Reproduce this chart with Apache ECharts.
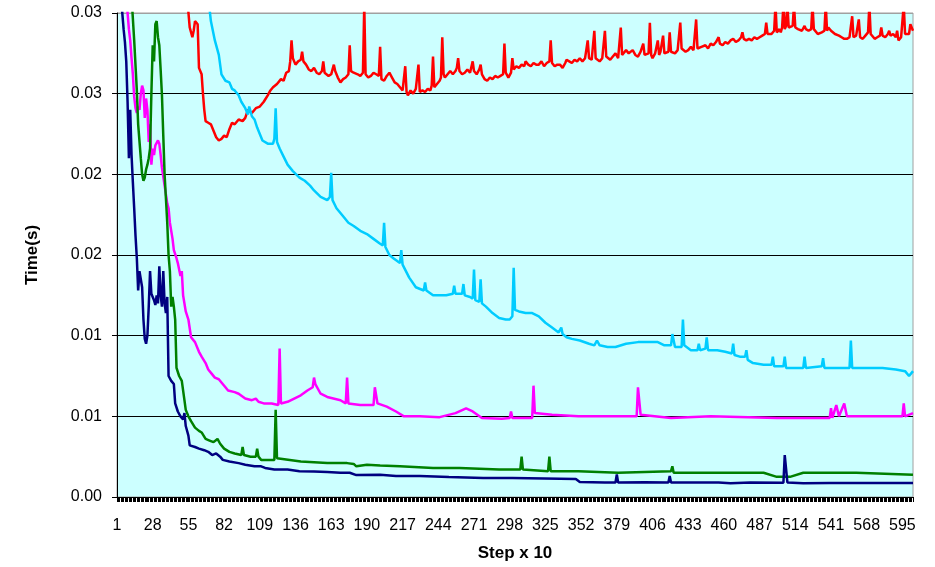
<!DOCTYPE html>
<html>
<head>
<meta charset="utf-8">
<title>Time per step</title>
<script src="https://cdn.jsdelivr.net/npm/echarts@6/dist/echarts.min.js"></script>
<style>
  html, body { margin: 0; padding: 0; background: #fff; }
  #chart { width: 935px; height: 567px; }
</style>
</head>
<body>
<div id="chart"></div>
<script>
// step numbers on the category axis (Step x 10)
const stepCount = 603
const categories = []
for (let i = 1; i <= stepCount; i++) categories.push(String(i))

// y tick labels as printed (two decimals, so 0.005 shows as 0.01)
const yTickLabels = ['0.00', '0.01', '0.01', '0.02', '0.02', '0.03', '0.03']

// [step, seconds]; values above 0.03 are clipped by the plot
const redData = [
  [1, 0.05], [54, 0.031], [56, 0.0291], [58, 0.0285], [59, 0.0289], [60, 0.0295], [62, 0.0293], [63, 0.0266],
  [65, 0.0262], [66, 0.0250], [67, 0.0240], [68, 0.0233], [70, 0.0232], [72, 0.0231], [74, 0.0227], [76, 0.0223],
  [78, 0.0221], [80, 0.0222], [82, 0.0224], [84, 0.0223], [86, 0.0228], [88, 0.0232], [90, 0.0231], [93, 0.0234],
  [96, 0.0233], [98, 0.0235], [100, 0.0240], [103, 0.0238], [106, 0.0241], [109, 0.0242], [112, 0.0245], [115, 0.0249],
  [117, 0.0252], [119, 0.0254], [122, 0.0256], [125, 0.0259], [127, 0.0258], [129, 0.0263], [131, 0.0264], [132, 0.0270],
  [133, 0.0283], [134, 0.0272], [136, 0.0268], [138, 0.0270], [139, 0.0269], [140, 0.0271], [141, 0.0276], [142, 0.0270],
  [144, 0.0268], [146, 0.0265], [148, 0.0264], [150, 0.0266], [152, 0.0263], [154, 0.0262], [156, 0.0264], [157, 0.0270],
  [158, 0.0263], [161, 0.0261], [163, 0.0262], [165, 0.0268], [166, 0.0264], [168, 0.0260], [170, 0.0257], [172, 0.0259],
  [174, 0.0260], [176, 0.0262], [177, 0.0280], [178, 0.0264], [180, 0.0263], [183, 0.0262], [185, 0.0261], [187, 0.0263],
  [188, 0.0305], [189, 0.0262], [191, 0.0260], [193, 0.0261], [195, 0.0263], [197, 0.0262], [199, 0.0261], [200, 0.0279],
  [201, 0.0259], [203, 0.0258], [205, 0.0261], [207, 0.0263], [209, 0.0260], [211, 0.0257], [213, 0.0256], [215, 0.0254],
  [217, 0.0252], [218, 0.0253], [219, 0.0267], [220, 0.0251], [221, 0.0249], [223, 0.0252], [225, 0.0250], [227, 0.0253],
  [228, 0.0252], [229, 0.0268], [230, 0.0251], [232, 0.0252], [234, 0.0251], [236, 0.0253], [238, 0.0252], [239, 0.0255],
  [240, 0.0273], [241, 0.0254], [243, 0.0256], [245, 0.0258], [246, 0.0260], [247, 0.0285], [248, 0.0262], [249, 0.0260],
  [251, 0.0262], [253, 0.0264], [255, 0.0262], [257, 0.0264], [258, 0.0266], [259, 0.0272], [260, 0.0264], [262, 0.0262],
  [264, 0.0263], [266, 0.0265], [268, 0.0263], [270, 0.0270], [271, 0.0264], [273, 0.0262], [275, 0.0265], [276, 0.0268],
  [277, 0.0262], [279, 0.0259], [281, 0.0258], [283, 0.0260], [285, 0.0259], [287, 0.0261], [289, 0.0260], [291, 0.0261],
  [293, 0.0262], [294, 0.0281], [295, 0.0263], [297, 0.0260], [299, 0.0263], [300, 0.0272], [301, 0.0265], [303, 0.0267],
  [305, 0.0266], [307, 0.0268], [309, 0.0267], [310, 0.0270], [312, 0.0268], [314, 0.0267], [316, 0.0269], [318, 0.0268],
  [320, 0.0268], [322, 0.0270], [324, 0.0267], [326, 0.0269], [328, 0.0270], [329, 0.0283], [330, 0.0269], [332, 0.0267],
  [334, 0.0268], [336, 0.0268], [338, 0.0266], [340, 0.0269], [341, 0.0271], [343, 0.0270], [345, 0.0269], [347, 0.0271],
  [349, 0.0270], [351, 0.0272], [353, 0.0270], [355, 0.0272], [357, 0.0283], [358, 0.0272], [360, 0.0271], [362, 0.0289],
  [363, 0.0272], [366, 0.0270], [368, 0.0272], [370, 0.0289], [371, 0.0273], [374, 0.0271], [376, 0.0273], [378, 0.0275],
  [380, 0.0272], [382, 0.0291], [383, 0.0274], [386, 0.0277], [388, 0.0275], [391, 0.0277], [393, 0.0274], [395, 0.0273],
  [397, 0.0276], [399, 0.0281], [400, 0.0274], [401, 0.0273], [403, 0.0275], [404, 0.0294], [405, 0.0274], [406, 0.0272],
  [408, 0.0275], [410, 0.0283], [411, 0.0274], [412, 0.0276], [414, 0.0286], [415, 0.0275], [416, 0.0274], [418, 0.0276],
  [419, 0.0288], [420, 0.0276], [423, 0.0275], [425, 0.0277], [427, 0.0294], [428, 0.0278], [429, 0.0279], [431, 0.0276],
  [433, 0.0277], [435, 0.0279], [437, 0.0277], [439, 0.0296], [440, 0.0278], [441, 0.0277], [443, 0.0279], [446, 0.0280],
  [448, 0.0278], [450, 0.0281], [452, 0.0280], [454, 0.0282], [456, 0.0285], [457, 0.0281], [459, 0.0280], [461, 0.0282],
  [463, 0.0281], [465, 0.0283], [467, 0.0284], [469, 0.0282], [471, 0.0283], [473, 0.0285], [474, 0.0288], [475, 0.0284],
  [477, 0.0283], [479, 0.0284], [481, 0.0283], [483, 0.0285], [485, 0.0284], [487, 0.0285], [489, 0.0286], [491, 0.0287],
  [492, 0.0294], [493, 0.0287], [494, 0.0288], [496, 0.0287], [498, 0.0289], [499, 0.0305], [500, 0.0288], [502, 0.0290],
  [503, 0.0288], [504, 0.0291], [505, 0.0305], [506, 0.0290], [507, 0.0292], [508, 0.0305], [509, 0.0291], [510, 0.0290],
  [512, 0.0292], [513, 0.0305], [514, 0.0291], [516, 0.0290], [517, 0.0291], [519, 0.0289], [521, 0.0292], [522, 0.0290],
  [524, 0.0289], [526, 0.0290], [527, 0.0305], [528, 0.0290], [529, 0.0289], [531, 0.0287], [532, 0.0286], [534, 0.0288],
  [536, 0.0289], [537, 0.0305], [538, 0.0289], [539, 0.0291], [541, 0.0289], [542, 0.0289], [544, 0.0287], [547, 0.0286],
  [549, 0.0285], [551, 0.0284], [553, 0.0284], [555, 0.0285], [557, 0.0298], [558, 0.0285], [560, 0.0286], [561, 0.0285],
  [562, 0.0296], [563, 0.0285], [565, 0.0284], [567, 0.0286], [569, 0.0288], [570, 0.0305], [571, 0.0287], [572, 0.0286],
  [574, 0.0284], [576, 0.0285], [578, 0.0286], [579, 0.0291], [580, 0.0286], [582, 0.0285], [584, 0.0287], [585, 0.0289],
  [586, 0.0286], [588, 0.0287], [590, 0.0285], [591, 0.0289], [592, 0.0283], [594, 0.0285], [596, 0.0305], [597, 0.0287],
  [598, 0.0286], [600, 0.0287], [601, 0.0293], [603, 0.0289]
]

const cyanData = [
  [1, 0.05], [70, 0.031], [72, 0.0295], [75, 0.0283], [78, 0.0274], [80, 0.0262], [83, 0.0258], [86, 0.0257],
  [88, 0.0253], [90, 0.0252], [93, 0.0249], [95, 0.0245], [98, 0.0241], [100, 0.0237], [101, 0.0242], [103, 0.0236],
  [105, 0.0234], [107, 0.0229], [109, 0.0225], [111, 0.0221], [115, 0.0219], [119, 0.0219], [120, 0.0222], [121, 0.0241],
  [122, 0.0220], [124, 0.0216], [127, 0.0211], [130, 0.0206], [134, 0.0202], [139, 0.0198], [143, 0.0196], [147, 0.0193],
  [150, 0.0190], [155, 0.0186], [160, 0.0184], [162, 0.0186], [163, 0.0201], [164, 0.0184], [167, 0.0179], [172, 0.0174],
  [176, 0.0170], [180, 0.0168], [185, 0.0165], [190, 0.0163], [195, 0.0160], [200, 0.0157], [202, 0.0156], [203, 0.0170],
  [204, 0.0155], [207, 0.0150], [210, 0.0148], [215, 0.0145], [216, 0.0153], [217, 0.0144], [222, 0.0136], [227, 0.0130],
  [233, 0.0128], [234, 0.0133], [235, 0.0128], [240, 0.0125], [245, 0.0125], [250, 0.0125], [255, 0.0126], [256, 0.0131],
  [257, 0.0126], [262, 0.0126], [263, 0.0132], [264, 0.0125], [268, 0.0124], [270, 0.0123], [271, 0.0141], [272, 0.0122],
  [275, 0.0121], [276, 0.0135], [277, 0.0120], [280, 0.0118], [285, 0.0114], [290, 0.0111], [295, 0.0110], [298, 0.0110],
  [300, 0.0112], [301, 0.0142], [302, 0.0116], [305, 0.0115], [310, 0.0114], [315, 0.0114], [320, 0.0112], [325, 0.0108],
  [330, 0.0105], [335, 0.0102], [337, 0.0105], [338, 0.0101], [341, 0.0099], [345, 0.0098], [351, 0.0097], [358, 0.0095],
  [362, 0.0094], [364, 0.0097], [366, 0.0094], [372, 0.0093], [378, 0.0093], [386, 0.0095], [395, 0.0096], [405, 0.0096],
  [410, 0.0096], [415, 0.0094], [420, 0.0094], [421, 0.0101], [423, 0.0093], [428, 0.0093], [429, 0.0110], [430, 0.0094],
  [435, 0.0091], [440, 0.0091], [441, 0.0095], [442, 0.0091], [446, 0.0092], [447, 0.0099], [448, 0.0091], [455, 0.0091],
  [461, 0.0090], [466, 0.0089], [467, 0.0095], [468, 0.0088], [472, 0.0087], [476, 0.0087], [477, 0.0091], [478, 0.0085],
  [482, 0.0083], [490, 0.0082], [496, 0.0082], [497, 0.0087], [498, 0.0081], [505, 0.0081], [506, 0.0087], [507, 0.0080],
  [520, 0.0080], [521, 0.0087], [522, 0.0080], [534, 0.0081], [535, 0.0086], [536, 0.0080], [555, 0.0080], [556, 0.0097],
  [557, 0.0080], [570, 0.0080], [580, 0.0080], [590, 0.0079], [597, 0.0078], [600, 0.0075], [603, 0.0078]
]

const magentaData = [
  [1, 0.045], [8, 0.031], [10, 0.0290], [11, 0.0283], [12, 0.0272], [13, 0.0262], [14, 0.0248], [15, 0.0241],
  [16, 0.0238], [17, 0.0242], [18, 0.0240], [19, 0.0250], [20, 0.0255], [21, 0.0252], [22, 0.0235], [23, 0.0247],
  [24, 0.0240], [25, 0.0220], [26, 0.0231], [27, 0.0206], [28, 0.0216], [29, 0.0212], [30, 0.0218], [31, 0.0219],
  [32, 0.0221], [33, 0.0219], [34, 0.0212], [35, 0.0204], [37, 0.0193], [39, 0.0182], [40, 0.0179], [41, 0.0170],
  [43, 0.0160], [44, 0.0153], [46, 0.0148], [47, 0.0145], [49, 0.0137], [50, 0.0140], [51, 0.0125], [53, 0.0115],
  [55, 0.0110], [57, 0.0099], [60, 0.0096], [63, 0.0090], [65, 0.0087], [68, 0.0083], [70, 0.0079], [73, 0.0076],
  [75, 0.0074], [78, 0.0073], [80, 0.0071], [83, 0.0068], [85, 0.0066], [90, 0.0065], [93, 0.0064], [98, 0.0061],
  [103, 0.0060], [106, 0.0061], [108, 0.0059], [112, 0.0058], [118, 0.0058], [123, 0.0057], [124, 0.0092], [125, 0.0058],
  [130, 0.0059], [135, 0.0061], [140, 0.0063], [145, 0.0066], [149, 0.0068], [150, 0.0074], [151, 0.0070], [155, 0.0064],
  [160, 0.0062], [170, 0.0060], [174, 0.0058], [175, 0.0074], [176, 0.0058], [185, 0.0057], [195, 0.0057], [196, 0.0068],
  [198, 0.0058], [205, 0.0056], [212, 0.0053], [218, 0.0050], [230, 0.0050], [245, 0.00495], [257, 0.0052], [265, 0.0055],
  [270, 0.0053], [277, 0.0049], [292, 0.00485], [298, 0.0049], [299, 0.0053], [300, 0.0049], [315, 0.0049], [316, 0.0069],
  [317, 0.0052], [330, 0.0051], [350, 0.0050], [370, 0.0050], [394, 0.0050], [395, 0.0068], [397, 0.0051], [420, 0.0049],
  [450, 0.0050], [500, 0.0049], [540, 0.0049], [541, 0.0055], [542, 0.0049], [545, 0.0057], [547, 0.0050], [551, 0.0058],
  [553, 0.0050], [595, 0.0050], [596, 0.0058], [597, 0.0050], [603, 0.0052]
]

const greenData = [
  [1, 0.045], [12, 0.031], [14, 0.0283], [16, 0.0252], [17, 0.0231], [19, 0.0210], [20, 0.0200], [21, 0.0196],
  [22, 0.0198], [23, 0.0203], [24, 0.0206], [25, 0.0210], [26, 0.0216], [27, 0.0250], [28, 0.0280], [29, 0.0270],
  [30, 0.0293], [31, 0.0295], [32, 0.0285], [33, 0.0280], [34, 0.0265], [35, 0.0249], [36, 0.0224], [37, 0.0200],
  [38, 0.0185], [39, 0.0170], [40, 0.0150], [41, 0.0140], [42, 0.0118], [43, 0.0124], [44, 0.0118], [45, 0.0110],
  [46, 0.0080], [48, 0.0075], [50, 0.0072], [52, 0.0060], [53, 0.0054], [55, 0.0050], [57, 0.0047], [60, 0.0043],
  [63, 0.0041], [65, 0.0040], [68, 0.0036], [71, 0.0035], [74, 0.0034], [77, 0.0036], [79, 0.0033], [82, 0.0030],
  [86, 0.0028], [90, 0.0027], [95, 0.0026], [96, 0.0031], [97, 0.0026], [102, 0.0025], [106, 0.0025], [107, 0.0030],
  [108, 0.0025], [110, 0.0023], [120, 0.0023], [121, 0.0054], [122, 0.0024], [123, 0.0023], [140, 0.0022], [160, 0.0021],
  [175, 0.0021], [180, 0.00205], [182, 0.0019], [190, 0.0020], [200, 0.00195], [215, 0.0019], [240, 0.0018], [260, 0.0018],
  [275, 0.00175], [290, 0.0017], [306, 0.0017], [307, 0.0025], [308, 0.0017], [327, 0.0016], [328, 0.0025], [329, 0.0016],
  [350, 0.0016], [380, 0.0015], [420, 0.0016], [421, 0.0019], [422, 0.0015], [490, 0.0015], [500, 0.00125], [510, 0.00125],
  [520, 0.0015], [560, 0.0015], [603, 0.00138]
]

const navyData = [
  [1, 0.045], [4, 0.031], [6, 0.0290], [7, 0.0282], [8, 0.0270], [9, 0.0245], [10, 0.0210], [11, 0.0240],
  [12, 0.0212], [13, 0.0195], [14, 0.0179], [15, 0.0162], [16, 0.0148], [17, 0.0128], [18, 0.0140], [19, 0.0135],
  [20, 0.0130], [21, 0.0110], [22, 0.0098], [23, 0.0095], [24, 0.0100], [25, 0.0118], [26, 0.0140], [27, 0.0126],
  [28, 0.0125], [29, 0.0122], [30, 0.0119], [31, 0.0125], [32, 0.0120], [33, 0.0143], [34, 0.0125], [35, 0.0118],
  [36, 0.0140], [37, 0.0120], [38, 0.0114], [39, 0.0124], [40, 0.0075], [42, 0.0072], [44, 0.0070], [45, 0.0058],
  [47, 0.0053], [49, 0.0050], [51, 0.0048], [52, 0.0052], [53, 0.0044], [55, 0.0038], [56, 0.0032], [60, 0.0031],
  [63, 0.0030], [67, 0.0029], [70, 0.0028], [73, 0.0026], [76, 0.0027], [79, 0.0025], [81, 0.0023], [86, 0.0022],
  [93, 0.0021], [98, 0.0020], [105, 0.0019], [110, 0.0019], [113, 0.0018], [120, 0.0017], [130, 0.0017], [139, 0.0016],
  [150, 0.00158], [160, 0.00155], [170, 0.0015], [177, 0.0015], [182, 0.00136], [200, 0.00138], [212, 0.0013], [230, 0.0013],
  [252, 0.00124], [278, 0.00118], [300, 0.00117], [348, 0.00112], [351, 0.00093], [370, 0.0009], [378, 0.0009], [379, 0.0014],
  [380, 0.0009], [400, 0.00092], [418, 0.0009], [419, 0.0013], [420, 0.0009], [456, 0.0009], [465, 0.00085], [480, 0.0009],
  [505, 0.00088], [506, 0.0026], [507, 0.0026], [508, 0.0009], [520, 0.00085], [540, 0.00087], [603, 0.00087]
]

const seriesDefs = [
  { name: 'red', color: '#FF0000', data: redData },
  { name: 'cyan', color: '#00CCFF', data: cyanData },
  { name: 'magenta', color: '#FF00FF', data: magentaData },
  { name: 'green', color: '#008000', data: greenData },
  { name: 'navy', color: '#000080', data: navyData }
]

const font = 'Liberation Sans, Arial, sans-serif'
const myChart = echarts.init(document.getElementById('chart'))

const option = {
  animation: false,
  backgroundColor: '#fff',
  grid: {
    left: 117,
    right: 22,
    top: 13,
    bottom: 70,
    show: true,
    backgroundColor: '#CCFFFF',
    borderColor: '#A0A0A0',
    borderWidth: 1
  },
  xAxis: {
    type: 'category',
    data: categories,
    boundaryGap: false,
    name: 'Step x 10',
    nameLocation: 'middle',
    nameGap: 48,
    nameTextStyle: { fontFamily: font, fontSize: 17, fontWeight: 'bold', color: '#000' },
    axisLine: { lineStyle: { color: '#000', width: 1 } },
    axisTick: { // 每一步一个刻度，连成黑带
      interval: 0,
      length: 5,
      lineStyle: { color: '#000', width: 1 }
    },
    axisLabel: {
      interval: 26,
      margin: 21,
      fontFamily: font,
      fontSize: 16,
      color: '#000'
    },
    splitLine: { show: false }
  },
  yAxis: {
    type: 'value',
    min: 0,
    max: 0.03,
    interval: 0.005,
    name: 'Time(s)',
    nameLocation: 'middle',
    nameGap: 76,
    nameTextStyle: { fontFamily: font, fontSize: 17, fontWeight: 'bold', color: '#000' },
    axisLine: { show: true, lineStyle: { color: '#000', width: 1 } },
    axisTick: { show: true, length: 5, lineStyle: { color: '#000' } },
    axisLabel: {
      margin: 15,
      fontFamily: font,
      fontSize: 16,
      color: '#000',
      formatter: (v) => yTickLabels[Math.round(v / 0.005)]
    },
    splitLine: {
      show: true,
      lineStyle: {
        color: ['#000', '#000', '#000', '#000', '#000', '#000', '#A0A0A0'],
        width: 1
      }
    }
  },
  series: seriesDefs.map((s) => ({
    name: s.name,
    type: 'line',
    showSymbol: false,
    clip: true,
    lineStyle: { color: s.color, width: 2.5 },
    itemStyle: { color: s.color },
    data: s.data.map(([step, v]) => [step - 1, v])
  }))
}

myChart.setOption(option)
</script>
</body>
</html>
